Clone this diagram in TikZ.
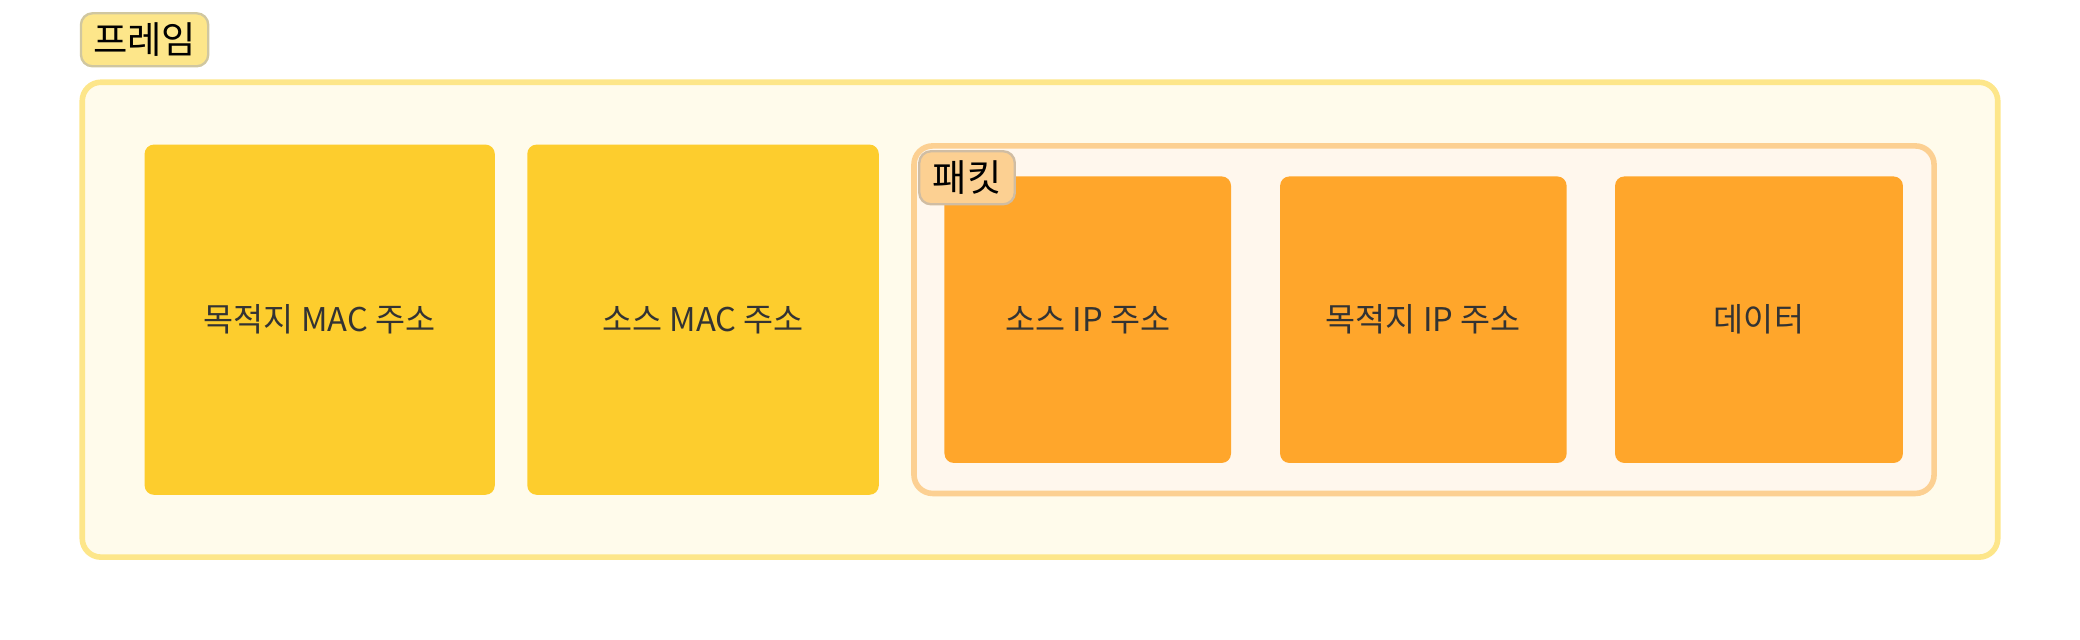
\documentclass[tikz,border=0pt]{standalone}
\usepackage{fontspec}
\setmainfont{Noto Sans CJK KR}
\definecolor{frameFill}{HTML}{FFFBEB}
\definecolor{frameLine}{HTML}{FDE68A}
\definecolor{macFill}{HTML}{FDCD2D}
\definecolor{ipFill}{HTML}{FFA62B}
\definecolor{pktFill}{HTML}{FFF7ED}
\definecolor{pktLine}{HTML}{FCD092}
\definecolor{txt}{HTML}{333333}
\tikzset{
  px/.style={x=0.01cm,y=-0.01cm},
  frame/.style={draw=frameLine, fill=frameFill, line width=1.2pt, rounded corners=4pt},
  packet/.style={draw=pktLine, fill=pktFill, line width=1.2pt, rounded corners=4pt},
  field/.style={rounded corners=2pt, inner sep=0pt, text=txt, font=\fontsize{7}{8}\selectfont},
  tag/.style={rounded corners=2.5pt, inner sep=0pt, line width=0.5pt, font=\fontsize{8}{9}\selectfont, text=black}
}
\begin{document}
\begin{tikzpicture}[px]
        \useasboundingbox (0,0) rectangle (1568,482);
        %frame
        \draw[frame] (62,62) rectangle (1506,420);
        \node[tag, fill=frameLine, draw=frameLine!70!black!60, minimum width=96*0.01cm, minimum height=40*0.01cm] (frameTag) at (109,30) {프레임};
        %MAC fields
        \node[field, fill=macFill, minimum width=264*0.01cm, minimum height=264*0.01cm] (dstMac) at (241,241) {목적지 MAC 주소};
        \node[field, fill=macFill, minimum width=265*0.01cm, minimum height=264*0.01cm] (srcMac) at (530,241) {소스 MAC 주소};
        %packet
        \draw[packet] (689,110) rectangle (1458,372);
        \node[field, fill=ipFill, minimum width=216*0.01cm, minimum height=216*0.01cm] (srcIp) at (820,241) {소스 IP 주소};
        \node[field, fill=ipFill, minimum width=216*0.01cm, minimum height=216*0.01cm] (dstIp) at (1073,241) {목적지 IP 주소};
        \node[field, fill=ipFill, minimum width=217*0.01cm, minimum height=216*0.01cm] (payload) at (1326,241) {데이터};
        \node[tag, fill=pktLine, draw=pktLine!70!black!60, minimum width=72*0.01cm, minimum height=40*0.01cm] (pktTag) at (729,134) {패킷};
\end{tikzpicture}
\end{document}
